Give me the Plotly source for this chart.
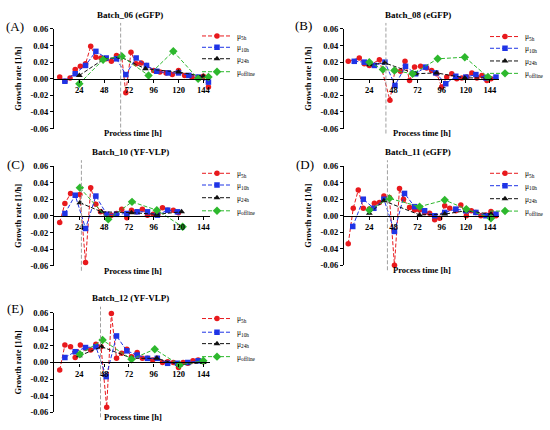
import plotly.graph_objects as go

# Batch_06 (eGFP)
a_t5 = [5, 10, 15, 20, 25, 30, 35, 40, 45, 50, 55, 60, 65, 69, 74, 79, 84, 89, 96, 102, 108, 114, 120, 126, 133, 140, 144, 149]
a_mu5 = [0.002, -0.003, 0.001, 0.011, 0.015, 0.018, 0.039, 0.026, 0.025, 0.024, 0.021, 0.028, 0.027, -0.017, 0.032,
         0.018, 0.019, 0.016, 0.010, 0.008, 0.007, 0.005, 0.010, 0.004, 0.002, 0.001, 0.003, -0.010]
a_t10 = [10, 20, 30, 40, 50, 60, 69, 79, 89, 99, 110, 120, 130, 139, 149]
a_mu10 = [-0.003, 0.006, 0.016, 0.033, 0.025, 0.024, 0.005, 0.025, 0.016, 0.009, 0.007, 0.007, 0.004, 0.002, -0.004]
a_t24 = [24, 48, 64, 88, 120, 144]
a_mu24 = [0.004, 0.024, 0.026, 0.012, 0.008, 0.003]
a_toff = [24, 47, 65, 91, 115, 139, 149]
a_muoff = [-0.006, 0.023, 0.027, 0.004, 0.033, 0.000, 0.002]

# Batch_08 (eGFP)
b_t5 = [3, 14, 19, 24, 34, 44.5, 49.5, 55, 59.5, 64, 69, 75, 81, 86, 91, 96, 101, 106, 111, 116, 121, 126, 131, 136, 141, 145]
b_mu5 = [0.021, 0.025, 0.018, 0.016, 0.023, -0.026, 0.010, 0.009, 0.021, -0.002, 0.014, 0.015, 0.013, 0.010, 0.006,
         -0.010, 0.002, 0.006, 0.000, 0.001, 0.002, 0.007, 0.001, 0.004, -0.002, 0.000]
b_t10 = [9, 19, 29, 39.5, 49.5, 60, 70, 80, 90, 100, 110, 120, 130, 140, 150]
b_mu10 = [0.021, 0.020, 0.016, 0.020, -0.008, 0.015, 0.006, 0.014, 0.007, -0.006, 0.003, 0.002, 0.005, 0.001, 0.002]
b_t24 = [24, 39.5, 70, 91, 119, 143]
b_mu24 = [0.017, 0.019, 0.006, 0.007, 0.001, 0.001]
b_toff = [24, 37.5, 49, 67, 92, 119, 142]
b_muoff = [0.020, 0.011, 0.010, 0.006, 0.024, 0.026, 0.002]

# Batch_10 (YF-VLP)
c_t5 = [5, 10, 15.5, 24.5, 30, 35, 40, 44.5, 50, 55, 60, 65, 70, 74.5, 79.5, 85, 90, 95.5, 100, 104.5, 109.5, 115, 120]
c_mu5 = [-0.008, 0.015, 0.027, 0.026, -0.056, 0.034, 0.014, 0.005, 0.002, 0.001, 0.003, 0.008, -0.002, 0.007, 0.005,
         0.008, 0.001, 0.002, 0.002, 0.010, 0.007, 0.007, 0.004]
c_t10 = [10, 20, 30, 40, 50.5, 60, 70, 80, 90, 99.5, 109.5, 119]
c_mu10 = [0.003, 0.025, -0.015, 0.024, 0.002, 0.002, 0.003, 0.005, 0.005, 0.001, 0.007, 0.005]
c_t24 = [24.5, 45.5, 74.5, 99, 123]
c_mu24 = [0.016, 0.005, 0.004, 0.002, 0.005]
c_toff = [24.5, 52, 75, 99, 124]
c_muoff = [0.034, -0.004, 0.017, 0.007, -0.013]

# Batch_11 (eGFP)
d_t5 = [3, 8, 13, 18, 24, 29, 34, 38.5, 44, 49, 54, 58, 64, 69, 74, 79, 84, 89, 94, 99, 104, 110, 115, 120.5, 125.5,
        130, 135, 140, 145, 150]
d_mu5 = [-0.034, 0.009, 0.031, 0.009, 0.008, 0.015, 0.016, 0.024, 0.022, -0.060, 0.033, 0.020, 0.010, 0.007, 0.007,
         0.004, 0.003, -0.005, -0.003, 0.012, 0.009, 0.006, 0.013, 0.000, 0.006, 0.004, 0.000, 0.001, 0.005, 0.000]
d_t10 = [7.5, 18, 28.5, 38.5, 49, 59, 69, 79, 89, 99, 110, 120, 130, 140, 150]
d_mu10 = [-0.013, 0.020, 0.009, 0.020, -0.019, 0.027, 0.011, 0.006, 0.000, 0.004, 0.008, 0.006, 0.004, 0.000, 0.002]
d_t24 = [24, 38.5, 74, 99, 120, 145]
d_mu24 = [0.003, 0.018, 0.001, 0.002, 0.006, 0.002]
d_toff = [24, 44, 74, 99, 120.5, 145]
d_muoff = [0.007, 0.021, 0.011, 0.019, 0.008, -0.003]

# Batch_12 (YF-VLP)
e_t5 = [5, 10, 15.5, 20, 25, 30, 35, 40, 45, 50.5, 55, 60, 65, 70, 74.5, 80, 85, 90, 95, 99.5, 104.5, 109.5, 115,
        120, 124.5, 129, 134, 139, 144]
e_mu5 = [-0.009, 0.021, 0.019, 0.006, 0.021, 0.017, 0.015, 0.022, 0.019, -0.054, 0.059, 0.005, 0.011, 0.016, 0.007,
         0.012, 0.005, 0.005, 0.003, 0.005, 0.000, 0.001, 0.000, -0.006, 0.000, -0.001, 0.002, 0.003, 0.001]
e_t10 = [10, 20, 30, 40, 50, 60, 70, 80, 90, 99.5, 109.5, 119, 129, 139]
e_mu10 = [0.006, 0.013, 0.018, 0.019, -0.017, 0.032, 0.014, 0.009, 0.005, 0.005, -0.001, -0.001, 0.000, 0.002]
e_t24 = [24, 45.5, 75, 99, 121, 144]
e_mu24 = [0.008, 0.019, 0.005, 0.005, -0.003, 0.000]
e_toff = [24.5, 46.5, 74.5, 97, 121, 144]
e_muoff = [0.010, 0.027, 0.004, 0.016, -0.003, 0.002]

# dashed grey marker line per batch
feed_times = [64, 40.5, 26, 42, 44.5]

titles = ["Batch_06 (eGFP)", "Batch_08 (eGFP)", "Batch_10 (YF-VLP)", "Batch_11 (eGFP)", "Batch_12 (YF-VLP)"]
letters = ["(A)", "(B)", "(C)", "(D)", "(E)"]
series_names = ["μ<sub>5h</sub>", "μ<sub>10h</sub>", "μ<sub>24h</sub>", "μ<sub>offline</sub>"]
x_ticks = [24, 48, 72, 96, 120, 144]
y_ticks = [-0.06, -0.04, -0.02, 0.0, 0.02, 0.04, 0.06]
y_labels = ["-0.06", "-0.04", "-0.02", "0.00", "0.02", "0.04", "0.06"]

panel_data = [
    [(a_t5, a_mu5), (a_t10, a_mu10), (a_t24, a_mu24), (a_toff, a_muoff)],
    [(b_t5, b_mu5), (b_t10, b_mu10), (b_t24, b_mu24), (b_toff, b_muoff)],
    [(c_t5, c_mu5), (c_t10, c_mu10), (c_t24, c_mu24), (c_toff, c_muoff)],
    [(d_t5, d_mu5), (d_t10, d_mu10), (d_t24, d_mu24), (d_toff, d_muoff)],
    [(e_t5, e_mu5), (e_t10, e_mu10), (e_t24, e_mu24), (e_toff, e_muoff)],
]

W, H = 550, 430
SERIF = "Liberation Serif, Times New Roman, serif"
colors = ["#e8191d", "#1f34e6", "#111111", "#2db82d"]
symbols = ["circle", "square", "triangle-up", "diamond"]
msizes = [5.5, 5.5, 6, 6.5]

# pixel layout: left, right, top, bottom of axes, x range
boxes = [
    (53, 210, 24.5, 126.5, -1.5, 150.5),
    (343, 499, 24.5, 126.5, -2.2, 153),
    (53, 210, 165, 267, -1.5, 150.5),
    (343, 499, 165, 266.5, -2.2, 153),
    (53, 210, 315, 417, -1.5, 150.5),
]
title_pos = [(130, 10), (418, 10), (130, 150), (418, 151), (130, 300)]
letter_pos = [(15, 22), (303, 21), (15, 163), (305, 163), (15, 311)]
legend_x = [237, 525, 237, 525, 237]
legend_rows = [[31.7, 43.3, 55, 68.3], [32.3, 44.3, 57.3, 70], [172.3, 184.3, 197.3, 210.7],
               [172.3, 185, 198.3, 211], [321, 335, 346.7, 360]]


def px(x):
    return x / W


def py(y):
    return 1 - y / H


fig = go.Figure()
layout = {}
annotations = []
shapes = []
leg_i = 0

for p in range(5):
    left, right, top, bottom, xmin, xmax = boxes[p]
    n = "" if p == 0 else str(p + 1)
    xa, ya = "x" + n, "y" + n
    ydom = [py(bottom), py(top)]
    layout["xaxis" + n] = dict(
        domain=[px(left), px(right)], range=[xmin, xmax], anchor="free",
        position=(ydom[0] + ydom[1]) / 2, showline=True, linecolor="black", linewidth=1.3,
        ticks="outside", ticklen=3, tickwidth=1.2, tickcolor="black", tickvals=x_ticks,
        tickfont=dict(family=SERIF, size=8.5, color="black", weight="bold"),
        showgrid=False, zeroline=False,
    )
    layout["yaxis" + n] = dict(
        domain=ydom, range=[-0.06, 0.06], anchor="free", position=px(left),
        showline=True, linecolor="black", linewidth=1.3, ticks="outside", ticklen=3,
        tickwidth=1.2, tickcolor="black", tickvals=y_ticks, ticktext=y_labels,
        tickfont=dict(family=SERIF, size=8.5, color="black", weight="bold"),
        showgrid=False, zeroline=False,
    )
    for s, (t, mu) in enumerate(panel_data[p]):
        leg_i += 1
        lname = "legend" if leg_i == 1 else "legend" + str(leg_i)
        fig.add_trace(go.Scatter(
            x=t, y=mu, xaxis=xa, yaxis=ya, mode="lines+markers", name=series_names[s],
            line=dict(color=colors[s], width=1, dash="4px,2px"),
            marker=dict(color=colors[s], symbol=symbols[s], size=msizes[s]),
            cliponaxis=False, legend=lname, showlegend=True,
        ))
        layout[lname] = dict(
            x=px(legend_x[p] - 40), y=py(legend_rows[p][s]), xanchor="left", yanchor="middle",
            bgcolor="rgba(0,0,0,0)", borderwidth=0,
            font=dict(family=SERIF, size=7.5, color="black"),
        )
    # dashed marker line
    shapes.append(dict(type="line", xref=xa, yref=ya + " domain", x0=feed_times[p], x1=feed_times[p],
                       y0=-0.05, y1=1.06, line=dict(color="#a0a0a0", width=1, dash="4px,2px")))
    cx = (left + right) / 2
    annotations.append(dict(text=titles[p], x=px(title_pos[p][0]), y=py(title_pos[p][1]), xref="paper",
                            yref="paper", showarrow=False, xanchor="center", yanchor="middle",
                            font=dict(family=SERIF, size=9, color="black", weight="bold")))
    annotations.append(dict(text=letters[p], x=px(letter_pos[p][0]), y=py(letter_pos[p][1]), xref="paper",
                            yref="paper", showarrow=False, xanchor="center", yanchor="middle",
                            font=dict(family=SERIF, size=13, color="black")))
    annotations.append(dict(text="Growth rate [1/h]", x=px(left - 35), y=py((top + bottom) / 2), xref="paper",
                            yref="paper", showarrow=False, textangle=-90, xanchor="center", yanchor="middle",
                            font=dict(family=SERIF, size=8.5, color="black", weight="bold")))
    annotations.append(dict(text="Process time [h]", x=px(cx + 1), y=py(bottom + 5), xref="paper",
                            yref="paper", showarrow=False, xanchor="center", yanchor="middle",
                            font=dict(family=SERIF, size=8.5, color="black", weight="bold")))

fig.update_layout(
    width=W, height=H, margin=dict(l=0, r=0, t=0, b=0),
    paper_bgcolor="white", plot_bgcolor="white", showlegend=True,
    annotations=annotations, shapes=shapes, **layout,
)

# page body margin would push the fixed-size figure off the window
fig.write_html("out.html", config={"displayModeBar": False},
               post_script="document.body.style.margin='0px';")
